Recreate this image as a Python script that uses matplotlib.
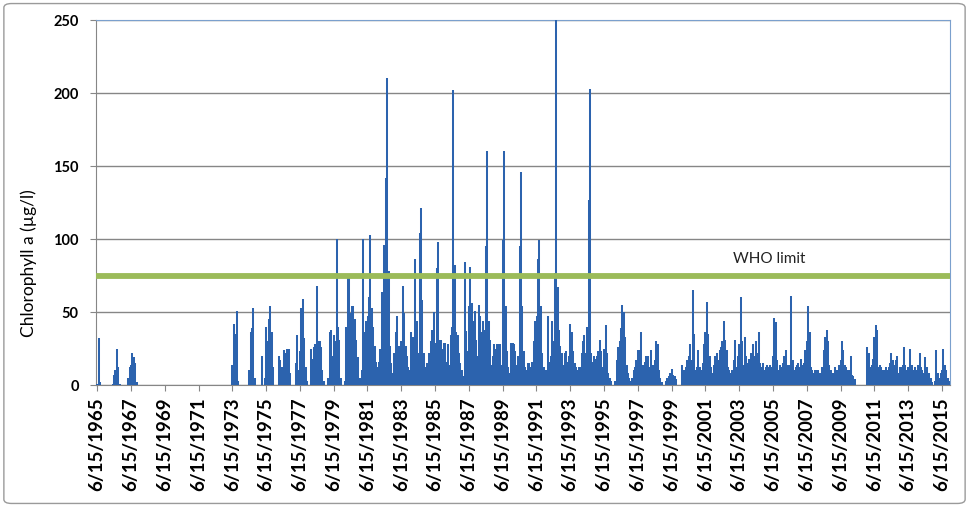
import numpy as np
import matplotlib.pyplot as plt
from matplotlib.patches import FancyBboxPatch

# monthly chlorophyll a (ug/l)
# first value is June 1965, None = no sample in that month
chl_1965_1969 = [1, 32, 2, 0, None, None, None,
                 None, None, None, None, 1, 7, 10, 25, 12, 1, None, None,
                 None, None, 0, 5, 12, 14, 22, 19, 15, 2, 0, None,
                 None, None, None, None, None, None, None, None, None, None, None, None,
                 None, None, None, None, None, None, None, None, None, None, None, None]
chl_1970_1979 = [None, None, None, None, None, None, None, None, None, None, None, None,
                 None, None, None, None, None, None, None, None, None, None, None, None,
                 None, None, None, None, None, None, None, None, None, None, None, None,
                 None, None, None, None, 0, 14, 42, 35, 51, 3, 0, None,
                 None, None, None, None, 0, 10, 36, 39, 53, 5, 0, None,
                 None, 0, 20, 0, 5, 40, 30, 45, 54, 36, 12, 0,
                 None, 0, 20, 17, 12, 10, 24, 22, 25, 25, 8, 0,
                 None, 0, 15, 34, 10, 23, 53, 59, 32, 12, 3, 0,
                 0, 25, 18, 26, 28, 68, 30, 30, 26, 10, 3, 0,
                 0, 5, 36, 38, 20, 34, 30, 100, 40, 31, 5, 0]
chl_1980_1989 = [0, 3, 40, 73, 74, 49, 54, 54, 45, 31, 19, 3,
                 5, 10, 100, 36, 44, 47, 60, 103, 53, 40, 27, 16,
                 12, 16, 25, 64, 47, 96, 142, 210, 78, 27, 15, 8,
                 22, 36, 47, 27, 22, 30, 68, 49, 27, 20, 12, 10,
                 36, 33, 27, 86, 44, 22, 104, 121, 58, 22, 12, 15,
                 15, 22, 30, 38, 50, 29, 80, 98, 31, 31, 25, 29,
                 29, 16, 28, 14, 34, 40, 202, 82, 36, 34, 22, 15,
                 10, 6, 84, 37, 23, 54, 81, 56, 44, 51, 31, 20,
                 55, 47, 36, 44, 38, 95, 160, 44, 31, 14, 20, 28,
                 25, 28, 28, 28, 14, 99, 160, 54, 23, 12, 8, 29]
chl_1990_1999 = [29, 28, 23, 14, 20, 95, 146, 54, 23, 12, 10, 15,
                 15, 12, 16, 30, 44, 47, 86, 99, 54, 22, 12, 8,
                 10, 47, 16, 20, 44, 30, 77, 250, 67, 38, 27, 22,
                 14, 22, 23, 16, 20, 42, 36, 23, 15, 12, 10, 12,
                 12, 22, 30, 34, 22, 40, 127, 203, 22, 16, 20, 18,
                 20, 23, 31, 23, 12, 25, 41, 22, 8, 5, 3, 0,
                 0, 3, 17, 26, 30, 39, 55, 50, 33, 14, 8, 5,
                 3, 5, 10, 12, 17, 24, 24, 36, 14, 14, 16, 20,
                 20, 12, 24, 12, 14, 17, 30, 28, 10, 5, 2, 0,
                 0, 3, 5, 6, 8, 11, 7, 6, 4, 0, 0, 0]
chl_2000_2009 = [14, 8, 10, 12, 17, 20, 28, 17, 65, 35, 10, 12,
                 24, 12, 10, 15, 28, 36, 57, 35, 20, 12, 8, 14,
                 20, 22, 17, 24, 26, 30, 44, 31, 24, 12, 10, 8,
                 10, 17, 31, 12, 20, 28, 60, 30, 14, 33, 20, 15,
                 18, 22, 15, 28, 20, 30, 22, 36, 15, 12, 15, 10,
                 12, 14, 12, 14, 12, 20, 46, 43, 17, 10, 14, 12,
                 15, 20, 24, 14, 14, 10, 61, 17, 10, 12, 14, 15,
                 12, 18, 14, 15, 24, 30, 54, 36, 12, 10, 8, 10,
                 10, 10, 8, 8, 12, 24, 33, 38, 30, 14, 10, 8,
                 8, 12, 10, 10, 14, 17, 30, 24, 14, 12, 10, 10]
chl_2010_2015 = [20, 7, 6, 4, 0, None, None, None, None, None, None, 0,
                 26, 22, 12, 14, 18, 33, 41, 38, 12, 14, 12, 10,
                 10, 12, 10, 12, 15, 22, 17, 14, 17, 20, 8, 12,
                 12, 14, 26, 14, 10, 12, 25, 14, 14, 10, 12, 10,
                 14, 22, 12, 10, 8, 19, 12, 6, 8, 5, 2, 0,
                 3, 24, 8, 5, 8, 10, 25, 14, 10, 5, 3, 0]

who_limit = 75
tick_years = list(range(1965, 2016, 2))
tick_labels = ['6/15/%d' % y for y in tick_years]
y_ticks = [0, 50, 100, 150, 200, 250]

chl = np.array(chl_1965_1969 + chl_1970_1979 + chl_1980_1989 +
               chl_1990_1999 + chl_2000_2009 + chl_2010_2015, dtype=float)
# mid month as decimal year, starting June 1965
t = 1965 + (5 + np.arange(len(chl)) + 0.5) / 12
tick_pos = [y + 166 / 365 for y in tick_years]
ok = ~np.isnan(chl)

plt.rcParams['font.family'] = ['Lato', 'DejaVu Sans']

fig = plt.figure(figsize=(9.69, 5.07), dpi=100)
ax = fig.add_axes([0.0991, 0.2406, 0.8813, 0.7199])

# thin columns, one per month
ax.vlines(t[ok], 0, chl[ok], color='#2C63AE', lw=1.45, zorder=3)
ax.axhline(who_limit, color='#9BBB59', lw=4.2, zorder=4)
ax.text(2005.2, 86, 'WHO limit', ha='center', va='center', fontsize=11, color='#222222')

ax.set_xlim(1965.39, 2015.93)
ax.set_ylim(0, 250)
ax.set_yticks(y_ticks)
ax.set_yticklabels([str(v) for v in y_ticks], fontsize=10.5, fontweight='bold')
ax.set_xticks(tick_pos)
ax.set_xticklabels(tick_labels, rotation=90, fontsize=13.5, fontweight='bold')
ax.tick_params(axis='y', length=4.5, color='#868686', pad=8)
ax.tick_params(axis='x', length=4, color='#868686', pad=5)

ax.set_axisbelow(True)
ax.yaxis.grid(True, color='#868686', lw=1)
for s in ['left', 'bottom']:
    ax.spines[s].set_color('#868686')
for s in ['top', 'right']:
    ax.spines[s].set_color('#7BA0CD')

fig.text(0.030, 1 - 263 / 507, 'Chlorophyll a (\u00b5g/l)', rotation=90,
         ha='center', va='center', fontsize=12.5)

# grey chart border
fig.patches.append(FancyBboxPatch((0.004, 0.007), 0.992, 0.986,
                                  boxstyle='round,pad=0,rounding_size=0.008',
                                  transform=fig.transFigure, fill=False,
                                  ec='#9A9A9A', lw=1))

fig.savefig('out.png', dpi=100)
